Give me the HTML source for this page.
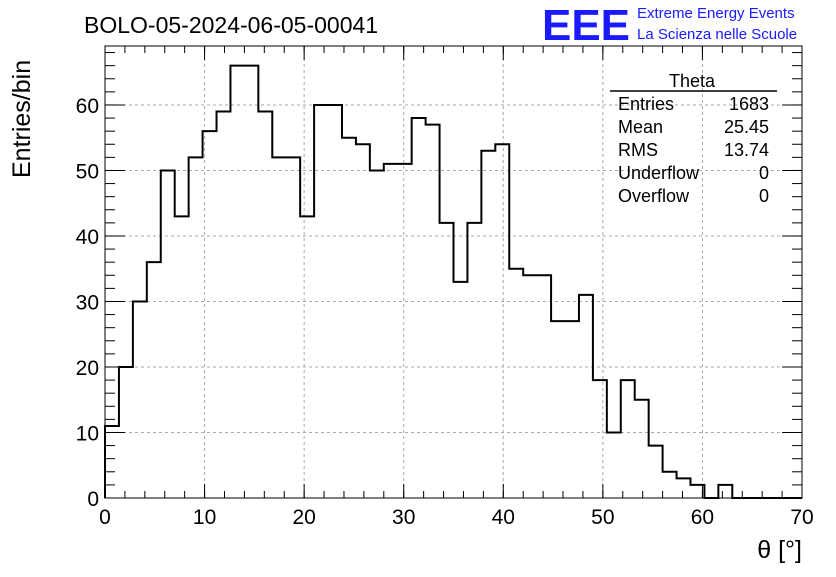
<!DOCTYPE html>
<html><head><meta charset="utf-8"><style>
body{margin:0;background:#fff;}
svg text{font-family:"Liberation Sans",sans-serif;}
</style></head><body>
<svg id="chart" width="836" height="572" xmlns="http://www.w3.org/2000/svg">
<rect width="836" height="572" fill="#fff"/>
<text x="84" y="33" font-size="23">BOLO-05-2024-06-05-00041</text>
<text x="542" y="40" font-size="44" fill="#1a1aff" font-weight="bold" textLength="88" lengthAdjust="spacingAndGlyphs">EEE</text>
<text x="637" y="18" font-size="15" fill="#1a1aff">Extreme Energy Events</text>
<text x="637" y="39" font-size="15" fill="#1a1aff">La Scienza nelle Scuole</text>
<g id="grid"></g>
<g id="ticks"></g>
<path id="hist" fill="none" stroke="#000" stroke-width="2"/>
<rect x="105" y="46" width="697" height="452" fill="none" stroke="#000" stroke-width="1"/>
<text transform="translate(30,178) rotate(-90)" font-size="25">Entries/bin</text>
<text x="802" y="558" font-size="25" text-anchor="end">θ [°]</text>
<g font-size="18">
<text x="692" y="87" text-anchor="middle">Theta</text>
<line x1="610" y1="91" x2="777" y2="91" stroke="#000" stroke-width="1.5"/>
<text x="618" y="110">Entries</text><text x="769" y="110" text-anchor="end">1683</text>
<text x="618" y="133">Mean</text><text x="769" y="133" text-anchor="end">25.45</text>
<text x="618" y="156">RMS</text><text x="769" y="156" text-anchor="end">13.74</text>
<text x="618" y="179">Underflow</text><text x="769" y="179" text-anchor="end">0</text>
<text x="618" y="202">Overflow</text><text x="769" y="202" text-anchor="end">0</text>
</g>
</svg>
<script>
const counts=[11,20,30,36,50,43,52,56,59,66,66,59,52,52,43,60,60,55,54,50,51,51,58,57,42,33,42,53,54,35,34,34,27,27,31,18,10,18,15,8,4,3,2,0,2,0,0,0,0,0];
const xTicks=[0,10,20,30,40,50,60,70];
const yTicks=[0,10,20,30,40,50,60];
const xMin=0,xMax=70,yMin=0,yMax=69;
const X0=105,X1=802,Y0=498,Y1=46;
const sx=v=>X0+(v-xMin)/(xMax-xMin)*(X1-X0);
const sy=v=>Y0-(v-yMin)/(yMax-yMin)*(Y0-Y1);
const NS="http://www.w3.org/2000/svg";
const grid=document.getElementById('grid'),ticks=document.getElementById('ticks');
function ln(p,x1,y1,x2,y2,dash){const l=document.createElementNS(NS,'line');l.setAttribute('x1',x1);l.setAttribute('y1',y1);l.setAttribute('x2',x2);l.setAttribute('y2',y2);l.setAttribute('stroke',dash?'#aaa':'#000');l.setAttribute('stroke-width','1');if(dash)l.setAttribute('stroke-dasharray','3,3');p.appendChild(l);return l;}
function tx(str,x,y,anchor){const t=document.createElementNS(NS,'text');t.textContent=str;t.setAttribute('x',x);t.setAttribute('y',y);t.setAttribute('font-size','21');t.setAttribute('text-anchor',anchor);ticks.appendChild(t);return t;}
xTicks.forEach(v=>{const x=sx(v);
 if(v>xMin&&v<xMax){const g=ln(grid,x,Y1,x,Y0,true);
 
 }
 ln(ticks,x,Y0,x,Y0-14);ln(ticks,x,Y1,x,Y1+14);
 const t=tx(String(v),x,Y0+26,'middle');
 
 });
for(let v=xMin;v<=xMax;v+=2){const x=sx(v);ln(ticks,x,Y0,x,Y0-7);ln(ticks,x,Y1,x,Y1+7);}
yTicks.forEach(v=>{const y=sy(v);
 if(v>yMin){const g=ln(grid,X0,y,X1,y,true);
 
 }
 ln(ticks,X0,y,X0+20,y);ln(ticks,X1,y,X1-20,y);
 const t=tx(String(v),X0-6,y+8,'end');
 
 });
for(let v=yMin;v<=yMax;v+=2){const y=sy(v);ln(ticks,X0,y,X0+10,y);ln(ticks,X1,y,X1-10,y);}
const bw=(xMax-xMin)/counts.length;
let d=`M${sx(0)},${sy(0)}`;
counts.forEach((c,i)=>{d+=` L${sx(i*bw)},${sy(c)} L${sx((i+1)*bw)},${sy(c)}`;});
d+=` L${sx(xMax)},${sy(0)}`;
document.getElementById('hist').setAttribute('d',d);
</script>
</body></html>
